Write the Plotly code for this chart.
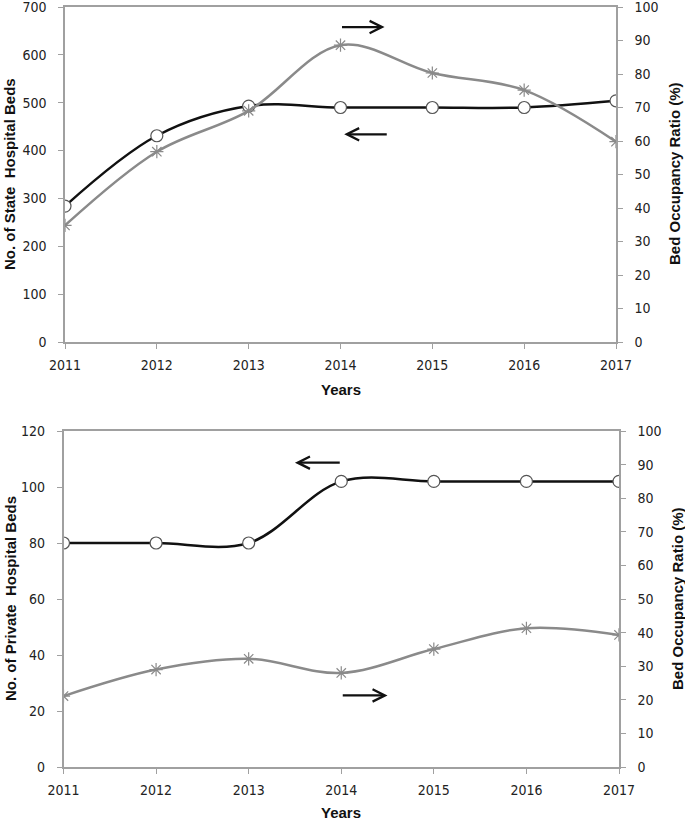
import plotly.graph_objects as go

years = [2011, 2012, 2013, 2014, 2015, 2016, 2017]
year_labels = ["2011", "2012", "2013", "2014", "2015", "2016", "2017"]

state_beds = [284, 431, 493, 490, 490, 490, 504]
state_occupancy = [34.8, 56.8, 69.0, 88.6, 80.3, 75.2, 59.8]

private_beds = [80, 80, 80, 102, 102, 102, 102]
private_occupancy = [21.1, 29.0, 32.2, 28.0, 35.1, 41.3, 39.3]

left_ticks_top = [0, 100, 200, 300, 400, 500, 600, 700]
left_ticks_bottom = [0, 20, 40, 60, 80, 100, 120]
right_ticks = [0, 10, 20, 30, 40, 50, 60, 70, 80, 90, 100]

W, H = 685, 820
BLACK = "#111111"
GRAY = "#8a8a8a"
AXIS = "#a0a0a0"
TICKFONT = dict(family="Liberation Sans Narrow, DejaVu Sans Condensed, Arial Narrow, sans-serif", size=14, color="#222222")
TITLEFONT = dict(family="Liberation Sans, Arial, sans-serif", size=15, color="#111111")

fig = go.Figure()

# top panel
fig.add_trace(go.Scatter(x=years, y=state_beds, xaxis="x", yaxis="y", mode="lines+markers",
                         line=dict(color=BLACK, width=2.5, shape="spline", smoothing=1),
                         marker=dict(symbol="circle", size=12, color="white", line=dict(color="#555555", width=1.2)),
                         showlegend=False))
fig.add_trace(go.Scatter(x=years, y=state_occupancy, xaxis="x", yaxis="y2", mode="lines+markers",
                         line=dict(color=GRAY, width=2.5, shape="spline", smoothing=1),
                         marker=dict(symbol="asterisk-open", size=11, color=GRAY, line=dict(color=GRAY, width=1.2)),
                         showlegend=False))
# bottom panel
fig.add_trace(go.Scatter(x=years, y=private_beds, xaxis="x2", yaxis="y3", mode="lines+markers",
                         line=dict(color=BLACK, width=2.5, shape="spline", smoothing=1),
                         marker=dict(symbol="circle", size=12, color="white", line=dict(color="#555555", width=1.2)),
                         showlegend=False))
fig.add_trace(go.Scatter(x=years, y=private_occupancy, xaxis="x2", yaxis="y4", mode="lines+markers",
                         line=dict(color=GRAY, width=2.5, shape="spline", smoothing=1),
                         marker=dict(symbol="asterisk-open", size=11, color=GRAY, line=dict(color=GRAY, width=1.2)),
                         showlegend=False))

top_dom_x = [65 / W, 616 / W]
bot_dom_x = [63.5 / W, 619 / W]
top_dom_y = [1 - 342 / H, 1 - 7 / H]
bot_dom_y = [1 - 767 / H, 1 - 431 / H]

def xaxis(domain, anchor):
    return dict(domain=domain, anchor=anchor, range=[2011, 2017], tickvals=years, ticktext=year_labels,
                showgrid=False, zeroline=False, showline=True, linecolor=AXIS, linewidth=1.5, mirror=True,
                ticks="outside", ticklen=5, tickcolor=AXIS, tickfont=TICKFONT, ticklabelstandoff=4,
                automargin=False, ticklabeloverflow="allow")

def yleft(domain, anchor, rng, tv):
    return dict(domain=domain, anchor=anchor, range=rng, tickvals=tv, showgrid=False, zeroline=False,
                showline=True, linecolor=AXIS, linewidth=1.5, ticks="outside", ticklen=5, tickcolor=AXIS,
                tickfont=TICKFONT, ticklabelstandoff=9, automargin=False, ticklabeloverflow="allow")

def yright(domain, anchor, overlay):
    return dict(domain=domain, anchor=anchor, overlaying=overlay, side="right", range=[0, 100],
                tickvals=right_ticks, showgrid=False, zeroline=False, showline=True, linecolor=AXIS,
                linewidth=1.5, ticks="outside", ticklen=5, tickcolor=AXIS, tickfont=TICKFONT,
                ticklabelstandoff=9, automargin=False, ticklabeloverflow="allow")

fig.update_layout(
    width=W, height=H, margin=dict(l=0, r=0, t=0, b=0),
    paper_bgcolor="white", plot_bgcolor="white",
    xaxis=xaxis(top_dom_x, "y"),
    yaxis=yleft(top_dom_y, "x", [0, 700], left_ticks_top),
    yaxis2=yright(top_dom_y, "x", "y"),
    xaxis2=xaxis(bot_dom_x, "y3"),
    yaxis3=yleft(bot_dom_y, "x2", [0, 120], left_ticks_bottom),
    yaxis4=yright(bot_dom_y, "x2", "y3"),
)

# axis titles
def title(text, x, y, angle=0):
    fig.add_annotation(text="<b>" + text + "</b>", x=x / W, y=1 - y / H, xref="paper", yref="paper",
                       showarrow=False, textangle=angle, font=TITLEFONT, xanchor="center", yanchor="middle")

title("Years", (65 + 616) / 2, 389)
title("No. of State  Hospital Beds", 10, 174, -90)
title("Bed Occupancy Ratio (%)", 675, 174, -90)
title("Years", (63.5 + 619) / 2, 812)
title("No. of Private  Hospital Beds", 10, 599, -90)
title("Bed Occupancy Ratio (%)", 677, 599, -90)

arrow = dict(showarrow=True, arrowhead=5, arrowsize=1.1, arrowwidth=2.2, arrowcolor=BLACK, text="")
fig.add_annotation(x=2014.48, y=94, ax=2014.0, ay=94, xref="x", yref="y2", axref="x", ayref="y2", **arrow)
fig.add_annotation(x=2014.04, y=62, ax=2014.52, ay=62, xref="x", yref="y2", axref="x", ayref="y2", **arrow)
fig.add_annotation(x=2013.5, y=108.7, ax=2014.0, ay=108.7, xref="x2", yref="y3", axref="x2", ayref="y3", **arrow)
fig.add_annotation(x=2014.5, y=21.3, ax=2014.0, ay=21.3, xref="x2", yref="y4", axref="x2", ayref="y4", **arrow)

fig.write_html("out.html", config={"displayModeBar": False},
               post_script="document.body.style.margin='0';document.body.style.overflow='hidden';")
